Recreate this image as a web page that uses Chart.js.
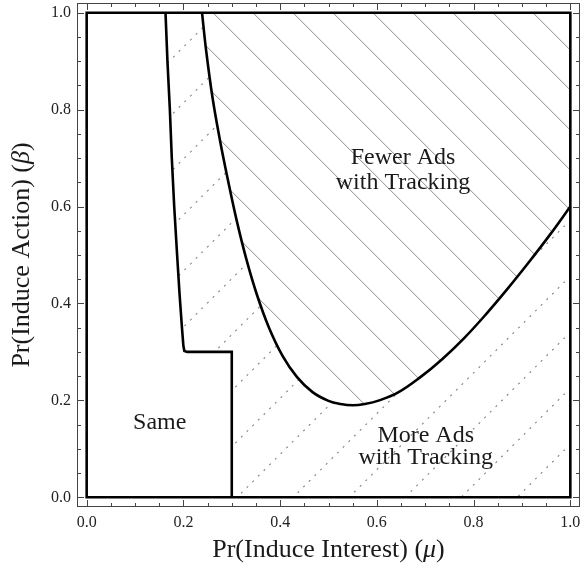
<!DOCTYPE html>
<html>
<head>
<meta charset="utf-8">
<script src="https://cdn.jsdelivr.net/npm/chart.js@4.4.1/dist/chart.umd.min.js"></script>
<style>
  html, body { margin: 0; padding: 0; background: #fff; }
  #wrap { width: 582px; height: 575px; }
</style>
</head>
<body>
<div id="wrap"><canvas id="chart" width="582" height="575"></canvas></div>
<script>
// left edge of the "Same" region, then the step down at mu = 0.3
const sameX = [0.163, 0.167, 0.172, 0.176, 0.181, 0.187, 0.192, 0.197, 0.200, 0.202, 0.208, 0.300, 0.300];
const sameY = [1.000, 0.900, 0.800, 0.700, 0.600, 0.500, 0.420, 0.350, 0.312, 0.302, 0.300, 0.300, 0.000];

// lower edge of the "Fewer Ads with Tracking" region
const fewerX = [0.2385, 0.247, 0.260, 0.275, 0.292, 0.310, 0.330, 0.352, 0.377, 0.405, 0.435, 0.467, 0.500,
                0.525, 0.550, 0.575, 0.605, 0.645, 0.690, 0.735, 0.780, 0.825, 0.870, 0.915, 0.958, 1.000];
const fewerY = [1.000, 0.922, 0.826, 0.740, 0.655, 0.572, 0.492, 0.418, 0.350, 0.292, 0.248, 0.217, 0.199,
                0.1925, 0.1900, 0.1925, 0.200, 0.217, 0.248, 0.285, 0.328, 0.377, 0.430, 0.486, 0.542, 0.600];

// the unit square
const boxX = [0, 1, 1, 0, 0];
const boxY = [0, 0, 1, 1, 0];

const tickValues = [0, 0.2, 0.4, 0.6, 0.8, 1.0];

const regionLabels = ['Fewer Ads', 'with Tracking', 'More Ads', 'with Tracking', 'Same'];
const regionLabelX = [0.654, 0.654, 0.701, 0.701, 0.151];
const regionLabelY = [0.700, 0.649, 0.128, 0.081, 0.153];

const xTitle = ['Pr(Induce Interest) (', 'μ', ')'];
const yTitle = ['Pr(Induce Action) (', 'β', ')'];

const SERIF = '"Liberation Serif", "Times New Roman", serif';

// hatch anchors: a solid stroke meets the top edge here, a dotted one meets the right edge here
const solidAnchorX = 0.261;
const dottedAnchorY = 0.572;

const pts = (xs, ys) => xs.map((v, i) => ({ x: v, y: ys[i] }));

function traceLine(chart, idx) {
  const line = chart.getDatasetMeta(idx).dataset;
  line.updateControlPoints(chart.chartArea, 'x');
  line.path(chart.ctx);
}

const hatchPlugin = {
  id: 'hatch',
  beforeDatasetsDraw(chart) {
    const { ctx, chartArea: a, scales: { x, y } } = chart;
    const x0 = x.getPixelForValue(0), x1 = x.getPixelForValue(1);
    const y0 = y.getPixelForValue(0), y1 = y.getPixelForValue(1);

    // fewer ads: thin solid lines falling to the right
    ctx.save();
    ctx.beginPath();
    traceLine(chart, 2);
    ctx.lineTo(x1, y1);
    ctx.closePath();
    ctx.clip();
    ctx.strokeStyle = '#8c8c8c';
    ctx.lineWidth = 1;
    const c0 = y1 - x.getPixelForValue(solidAnchorX);
    for (let k = -30; k <= 30; k++) {
      const c = c0 + 40 * k;
      ctx.beginPath();
      ctx.moveTo(a.left, a.left + c);
      ctx.lineTo(a.right, a.right + c);
      ctx.stroke();
    }
    ctx.restore();

    // more ads: dotted lines rising to the right, everywhere else in the square
    ctx.save();
    ctx.beginPath();
    ctx.rect(x0, y1, x1 - x0, y0 - y1);
    traceLine(chart, 1);
    ctx.lineTo(x0, y0);
    ctx.lineTo(x0, y1);
    ctx.closePath();
    traceLine(chart, 2);
    ctx.lineTo(x1, y1);
    ctx.closePath();
    ctx.clip('evenodd');
    ctx.strokeStyle = '#808080';
    ctx.lineWidth = 1.1;
    ctx.setLineDash([2, 6]);
    const k0 = x1 + y.getPixelForValue(dottedAnchorY);
    for (let k = -20; k <= 20; k++) {
      const c = k0 + 56 * k;
      ctx.beginPath();
      ctx.moveTo(a.left, c - a.left);
      ctx.lineTo(a.right, c - a.right);
      ctx.stroke();
    }
    ctx.restore();
  }
};

function drawMixed(ctx, parts, cx, cy, size) {
  const fonts = parts.map((p, i) => (i === 1 ? 'italic ' : '') + size + 'px ' + SERIF);
  let total = 0;
  const widths = parts.map((p, i) => { ctx.font = fonts[i]; const w = ctx.measureText(p).width; total += w; return w; });
  let cur = cx - total / 2;
  ctx.textAlign = 'left';
  ctx.textBaseline = 'middle';
  parts.forEach((p, i) => { ctx.font = fonts[i]; ctx.fillText(p, cur, cy); cur += widths[i]; });
}

const framePlugin = {
  id: 'frame',
  afterDraw(chart) {
    const { ctx, chartArea: a, scales: { x, y } } = chart;
    ctx.save();
    ctx.strokeStyle = '#444';
    ctx.lineWidth = 1;
    ctx.strokeRect(Math.round(a.left) + 0.5, Math.round(a.top) + 0.5,
                   Math.round(a.right - a.left) - 1, Math.round(a.bottom - a.top) - 1);
    ctx.beginPath();
    for (let i = 0; i <= 20; i++) {
      const v = i * 0.05;
      const len = i % 4 === 0 ? 7 : 4;
      const px = Math.round(x.getPixelForValue(v)) + 0.5;
      const py = Math.round(y.getPixelForValue(v)) + 0.5;
      ctx.moveTo(px, a.bottom); ctx.lineTo(px, a.bottom - len);
      ctx.moveTo(px, a.top); ctx.lineTo(px, a.top + len);
      ctx.moveTo(a.left, py); ctx.lineTo(a.left + len, py);
      ctx.moveTo(a.right, py); ctx.lineTo(a.right - len, py);
    }
    ctx.stroke();

    // region labels
    ctx.fillStyle = '#1a1a1a';
    ctx.font = '24px ' + SERIF;
    ctx.textAlign = 'center';
    ctx.textBaseline = 'middle';
    regionLabels.forEach((t, i) => {
      ctx.fillText(t, x.getPixelForValue(regionLabelX[i]), y.getPixelForValue(regionLabelY[i]));
    });

    // axis titles
    drawMixed(ctx, xTitle, (a.left + a.right) / 2, 550, 26);
    ctx.translate(22, (a.top + a.bottom) / 2);
    ctx.rotate(-Math.PI / 2);
    drawMixed(ctx, yTitle, 0, 0, 26);
    ctx.restore();
  }
};

const lineStyle = { borderColor: '#000', borderWidth: 2.6, showLine: true, pointRadius: 0, pointHoverRadius: 0 };

new Chart(document.getElementById('chart'), {
  type: 'scatter',
  data: {
    datasets: [
      { ...lineStyle, data: pts(boxX, boxY), tension: 0, borderCapStyle: 'square' },
      { ...lineStyle, data: pts(sameX, sameY), tension: 0 },
      { ...lineStyle, data: pts(fewerX, fewerY), tension: 0.4 }
    ]
  },
  options: {
    responsive: false,
    animation: false,
    layout: { padding: { top: 3, right: 2, left: 0, bottom: 0 } },
    plugins: { legend: { display: false }, tooltip: { enabled: false } },
    scales: {
      x: {
        type: 'linear', min: -0.02, max: 1.02, bounds: 'data',
        afterBuildTicks: s => { s.ticks = tickValues.map(v => ({ value: v })); },
        afterFit: s => { s.height = 68; s.paddingLeft = 0; s.paddingRight = 0; },
        grid: { display: false, drawTicks: false },
        border: { display: false },
        ticks: { font: { family: SERIF, size: 16 }, color: '#222', padding: 6, maxRotation: 0, autoSkip: false,
                 callback: v => v.toFixed(1) }
      },
      y: {
        type: 'linear', min: -0.02, max: 1.02, bounds: 'data',
        afterBuildTicks: s => { s.ticks = tickValues.map(v => ({ value: v })); },
        afterFit: s => { s.width = 77; s.paddingTop = 0; s.paddingBottom = 0; },
        grid: { display: false, drawTicks: false },
        border: { display: false },
        ticks: { font: { family: SERIF, size: 16 }, color: '#222', padding: 6, autoSkip: false,
                 callback: v => v.toFixed(1) }
      }
    }
  },
  plugins: [hatchPlugin, framePlugin]
});
</script>
</body>
</html>
